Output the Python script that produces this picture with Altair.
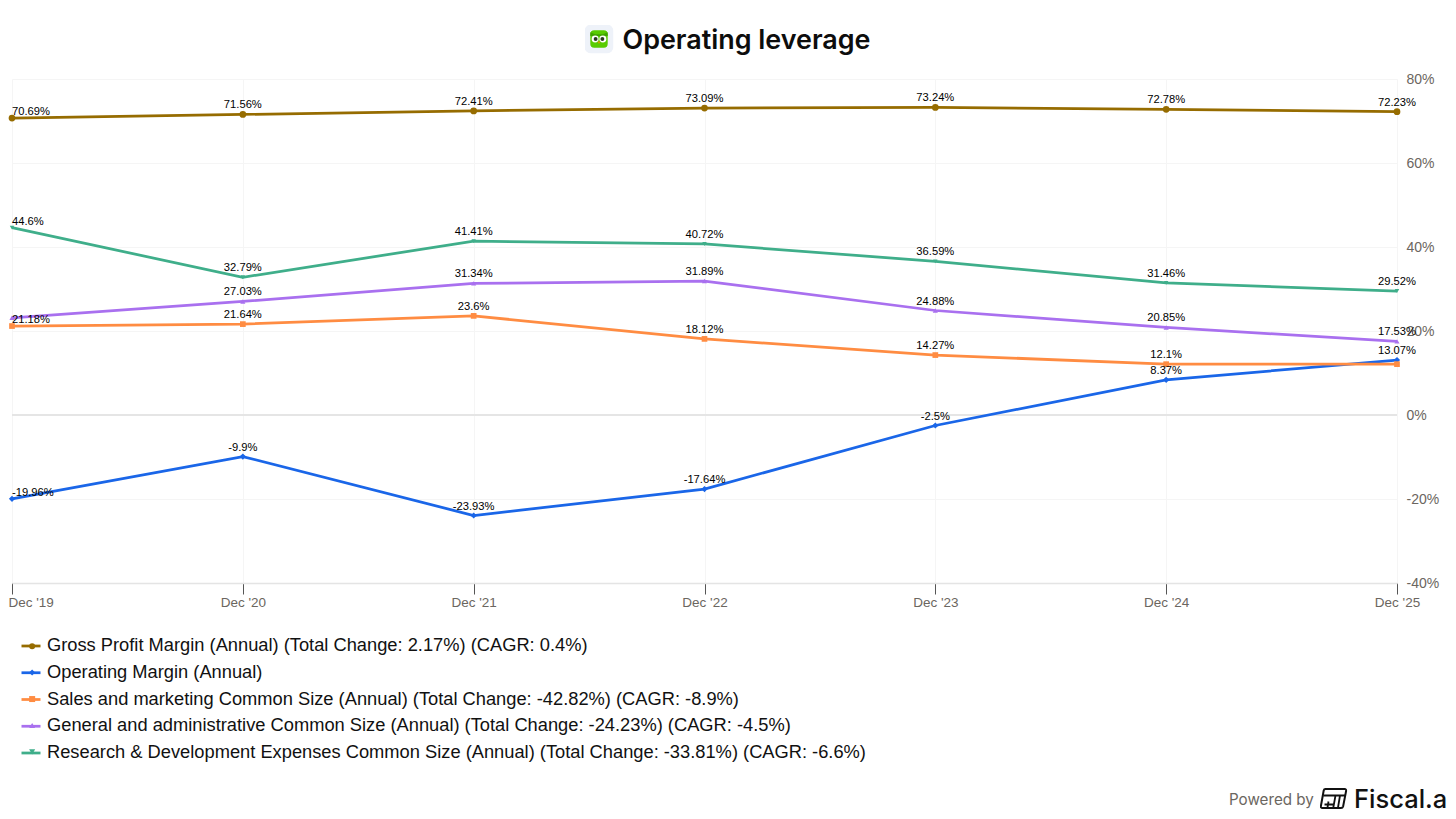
import base64
import altair as alt
import pandas as pd

PERIODS = ["Dec '19", "Dec '20", "Dec '21", "Dec '22", "Dec '23", "Dec '24", "Dec '25"]
SERIES = [
    "Gross Profit Margin (Annual) (Total Change: 2.17%) (CAGR: 0.4%)",
    "Operating Margin (Annual)",
    "Sales and marketing Common Size (Annual) (Total Change: -42.82%) (CAGR: -8.9%)",
    "General and administrative Common Size (Annual) (Total Change: -24.23%) (CAGR: -4.5%)",
    "Research & Development Expenses Common Size (Annual) (Total Change: -33.81%) (CAGR: -6.6%)",
]
GROSS = [70.69, 71.56, 72.41, 73.09, 73.24, 72.78, 72.23]
OPERATING = [-19.96, -9.9, -23.93, -17.64, -2.5, 8.37, 13.07]
SALES = [21.18, 21.64, 23.6, 18.12, 14.27, 12.1, 12.11]
GNA = [23.14, 27.03, 31.34, 31.89, 24.88, 20.85, 17.53]
RND = [44.6, 32.79, 41.41, 40.72, 36.59, 31.46, 29.52]
VALUES = [GROSS, OPERATING, SALES, GNA, RND]
COLORS = ["#966c00", "#1a66e8", "#ff8c42", "#a970ef", "#3fae8a"]
SHAPES = ["circle", "diamond", "square", "triangle-up", "triangle-down"]
SIZES = [45, 20, 60, 45, 45]
HIDDEN = {(3, 0), (2, 6)}

rows = []
for s, (name, vals) in enumerate(zip(SERIES, VALUES)):
    for i, (p, v) in enumerate(zip(PERIODS, vals)):
        rows.append({"period": p, "series": name, "value": v, "i": i,
                     "label": f"{v:g}%", "show": (s, i) not in HIDDEN})
df = pd.DataFrame(rows)

x = alt.X("period:O", sort=PERIODS, scale=alt.Scale(type="point", padding=0),
          axis=alt.Axis(title=None, labelAngle=0, labelFont="Liberation Sans", labelFontSize=13.5,
                        labelColor="#6b6660", labelPadding=1, tickSize=11, tickColor="#555555",
                        tickWidth=1, domainColor="#e4e4e4", domainWidth=1.5, grid=True,
                        gridColor="#f5f5f5", gridWidth=1,
                        labelAlign=alt.expr("datum.index == 0 ? 'left' : 'center'"),
                        labelOffset=alt.expr("datum.index == 0 ? -4 : 0")))
y = alt.Y("value:Q", scale=alt.Scale(domain=[-40, 80], nice=False),
          axis=alt.Axis(title=None, orient="right", values=[-40, -20, 0, 20, 40, 60, 80],
                        labelExpr="datum.value + '%'", labelFont="Liberation Sans", labelFontSize=14,
                        labelColor="#6b6660", labelPadding=9, ticks=False, domain=False, grid=True,
                        gridColor="#f5f5f5", gridWidth=1))

base = alt.Chart(df)
zero = base.mark_rule(color="#e4e4e4", strokeWidth=1.5).encode(y=alt.datum(0))

leg_common = dict(orient="none", title=None, direction="vertical", labelFont="Liberation Sans",
                  labelFontSize=18.3, labelLimit=1200)
lines = base.mark_line(strokeWidth=2.75).encode(
    x=x, y=y,
    stroke=alt.Stroke("series:N", sort=SERIES, scale=alt.Scale(domain=SERIES, range=COLORS),
                      legend=alt.Legend(symbolType="stroke", symbolSize=361, symbolStrokeWidth=2.75,
                                        labelColor="#111111", legendX=8, legendY=556, rowPadding=6.75,
                                        labelOffset=5, **leg_common)),
)
marker_legend = alt.Legend(labelOpacity=0, symbolStrokeWidth=0, symbolOpacity=1,
                           symbolSize=36, legendX=11, legendY=558, rowPadding=7.45, **leg_common)
points = base.mark_point(filled=True, opacity=1).encode(
    x=x, y=y,
    fill=alt.Fill("series:N", sort=SERIES, scale=alt.Scale(domain=SERIES, range=COLORS), legend=marker_legend),
    shape=alt.Shape("series:N", sort=SERIES, scale=alt.Scale(domain=SERIES, range=SHAPES), legend=marker_legend),
    size=alt.Size("series:N", sort=SERIES, scale=alt.Scale(domain=SERIES, range=SIZES), legend=None),
)
lab_kw = dict(font="Liberation Sans", fontSize=11.2, color="#000000", baseline="alphabetic")
labels = base.transform_filter("datum.show && datum.i > 0").mark_text(align="center", dy=-6, **lab_kw).encode(
    x=x, y=y, text="label:N")
labels_first = base.transform_filter("datum.show && datum.i == 0").mark_text(align="left", dy=-3, **lab_kw).encode(
    x=x, y=y, text="label:N")


def uri(svg):
    return "data:image/svg+xml;base64," + base64.b64encode(svg.encode()).decode()


OWL = """<svg xmlns='http://www.w3.org/2000/svg' viewBox='0 0 30 30'>
<rect width='30' height='30' rx='7' fill='#eef2f9'/>
<rect x='6' y='6' width='18' height='18' rx='4' fill='#58cc02'/>
<path d='M6 8 L11 10 L19 10 L24 8 L24 12 L6 12Z' fill='#3fa300'/>
<circle cx='11' cy='15' r='3.6' fill='#fff'/><circle cx='19' cy='15' r='3.6' fill='#fff'/>
<circle cx='11.5' cy='15' r='2' fill='#2a3a20'/><circle cx='18.5' cy='15' r='2' fill='#2a3a20'/>
<path d='M13.5 17.5 L16.5 17.5 L15 20Z' fill='#f49000'/></svg>"""
ICON = """<svg xmlns='http://www.w3.org/2000/svg' viewBox='0 0 28 22'>
<path d='M6 1.5 H25 Q27 1.5 26.6 3.5 L23.6 19 Q23.2 20.5 21.5 20.5 H3 Q1 20.5 1.4 18.5 L4.2 3 Q4.5 1.5 6 1.5Z' fill='none' stroke='#111' stroke-width='2'/>
<path d='M3.8 8 H25.6 M16 8 L13.8 20 M20.5 8 L18.5 20 M9 14 L8 20 M5 17 H14' stroke='#111' stroke-width='1.8' fill='none'/></svg>"""
images = pd.DataFrame({"url": [uri(OWL), uri(ICON)]})
owl = alt.Chart(images.iloc[[0]]).mark_image(width=29, height=29).encode(
    url="url:N", x=alt.value(587), y=alt.value(-40))
icon = alt.Chart(images.iloc[[1]]).mark_image(width=28, height=22).encode(
    url="url:N", x=alt.value(1321.5), y=alt.value(719.5))
note = pd.DataFrame({"a": ["Powered by"], "b": ["Fiscal.a"]})
powered = alt.Chart(note).mark_text(align="left", baseline="middle", font="Inter", fontSize=15.2,
                                    color="#6b6660").encode(text="a:N", x=alt.value(1217), y=alt.value(721))
brand = alt.Chart(note).mark_text(align="left", baseline="middle", font="Inter", fontSize=25.5, fontWeight=500,
                                  color="#111111").encode(text="b:N", x=alt.value(1342), y=alt.value(721))

chart = alt.layer(zero, lines, points, labels, labels_first, owl, icon, powered, brand).resolve_scale(
    stroke="independent", fill="independent", shape="independent"
).properties(
    width=1385, height=504,
    title=alt.TitleParams("Operating leverage", font="Inter", fontSize=26.9, fontWeight=600, color="#0d0d0d",
                          anchor="middle", dx=42, dy=30, offset=0),
    autosize=alt.AutoSizeParams(type="none"),
    padding={"left": 4, "top": 71, "right": 51, "bottom": 228},
    background="white",
).configure_view(stroke=None)

chart.save("out.html", embed_options={"renderer": "svg", "actions": False})
